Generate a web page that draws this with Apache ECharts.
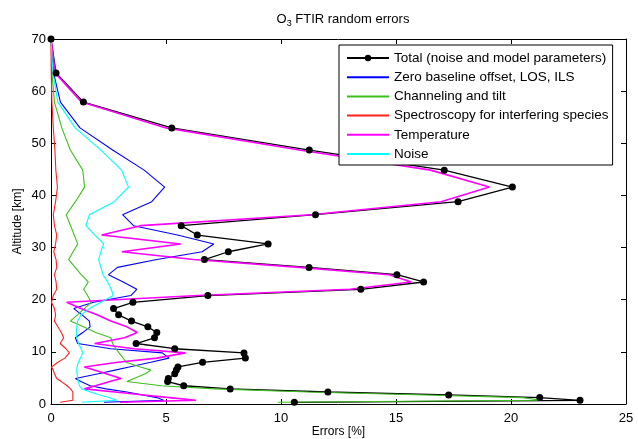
<!DOCTYPE html>
<html><head><meta charset="utf-8">
<script src="https://cdn.jsdelivr.net/npm/echarts@6/dist/echarts.min.js"></script>
<style>html,body{margin:0;padding:0;background:#fff;overflow:hidden}#c{width:638px;height:439px}</style>
</head><body><div id="c"></div>
<script>
const altitudes = [70, 63.5, 57.9, 52.95, 48.7, 44.85, 41.6, 38.8, 36.3, 34.2, 32.4, 30.7, 29.2, 27.7, 26.2, 24.8, 23.4, 22.0, 20.8, 19.5, 18.3, 17.1, 15.9, 14.8, 13.7, 12.7, 11.6, 10.6, 9.8, 8.8, 8.0, 7.1, 6.5, 5.8, 4.9, 4.3, 3.5, 2.9, 2.3, 1.74, 1.23, 0.71, 0.33];
const totalErr = [0, 0.22, 1.41, 5.25, 11.23, 17.1, 20.06, 17.7, 11.5, 5.66, 6.36, 9.44, 7.71, 6.67, 11.22, 15.04, 16.2, 13.47, 6.82, 3.56, 2.72, 2.94, 3.50, 4.21, 4.60, 4.50, 3.70, 5.38, 8.39, 8.45, 6.59, 5.52, 5.45, 5.38, 5.10, 5.07, 5.77, 7.79, 12.04, 17.29, 21.25, 23.0, 10.58];
const zeroBaseline = [0, 0.11, 0.41, 1.26, 2.68, 4.05, 4.94, 4.38, 3.11, 3.59, 5.5, 7.08, 6.57, 4.6, 2.89, 2.5, 3.14, 3.73, 3.47, 1.85, 0.99, 1.35, 1.67, 1.7, 1.38, 1.06, 1.16, 2.6, 4.84, 5.13, 4.34, 3.4, 2.78, 2.06, 1.06, 1.3, 1.7, 2.4, 3.3, 4.0, 4.6, 4.9, 2.3];
const channeling = [0, 0.04, 0.15, 0.47, 0.84, 1.38, 1.46, 1.06, 0.66, 0.85, 1.01, 1.16, 0.96, 0.77, 1.05, 1.31, 1.62, 1.42, 1.59, 1.75, 1.45, 1.15, 0.84, 1.41, 1.94, 2.6, 2.68, 2.82, 2.96, 3.14, 3.26, 3.89, 4.34, 4.1, 3.61, 3.3, 4.8, 7.1, 11.2, 16.3, 20.5, 21.3, 9.86];
const spectroscopy = [0, 0.01, 0.04, 0.1, 0.17, 0.21, 0.28, 0.2, 0.1, 0.15, 0.25, 0.2, 0.12, 0.22, 0.25, 0.15, 0.22, 0.25, 0.1, 0.02, 0.15, 0.2, 0.15, 0.3, 0.45, 0.55, 0.4, 0.65, 0.8, 0.6, 0.3, 0.02, 0.1, 0.15, 0.25, 0.45, 0.7, 0.85, 0.95, 0.95, 0.95, 0.95, 0.4];
const temperature = [0, 0.18, 1.33, 5.0, 10.8, 16.5, 19.06, 16.96, 11.3, 3.9, 2.2, 5.64, 3.08, 6.2, 10.8, 14.7, 15.66, 13.0, 6.4, 0.68, 1.3, 2.0, 2.6, 3.3, 3.75, 3.2, 1.9, 3.6, 5.85, 4.6, 2.9, 1.45, 1.88, 2.4, 3.04, 2.56, 1.93, 1.45, 2.78, 4.02, 5.15, 6.3, 3.0];
const noise = [0, 0.08, 0.3, 1.05, 2.17, 3.07, 3.37, 2.75, 1.67, 1.52, 1.91, 2.29, 2.17, 2.07, 2.17, 2.26, 2.46, 2.62, 2.71, 2.17, 1.67, 1.31, 1.16, 1.12, 1.1, 1.12, 1.2, 1.31, 1.38, 1.28, 1.19, 1.13, 1.12, 1.13, 1.16, 1.2, 1.23, 1.35, 1.71, 2.12, 2.52, 2.85, 1.35];
const seriesNames = ['Total (noise and model parameters)', 'Zero baseline offset, LOS, ILS', 'Channeling and tilt', 'Spectroscopy for interfering species', 'Temperature', 'Noise'];
const seriesColors = ['#000000', '#0000ff', '#3cc01e', '#ff2020', '#ff00ff', '#00ffff'];
const seriesValues = [totalErr, zeroBaseline, channeling, spectroscopy, temperature, noise];

const FONT = '"Liberation Sans", Arial, Helvetica, sans-serif';
const chart = echarts.init(document.getElementById('c'), null, {renderer: 'canvas', width: 638, height: 439});
const pairs = vals => vals.map((v, i) => [v, altitudes[i]]);

const series = seriesValues.map((vals, k) => {
  const s = {
    name: seriesNames[k], type: 'line', data: pairs(vals),
    xAxisIndex: 0, yAxisIndex: 0,
    lineStyle: {color: seriesColors[k], width: k === 4 ? 1.6 : (k === 0 ? 1.3 : 1.1)},
    itemStyle: {color: seriesColors[k]},
    animation: false, silent: true
  };
  if (k === 0) { s.symbol = 'circle'; s.symbolSize = 7; s.showSymbol = true; }
  else { s.symbol = 'none'; s.showSymbol = false; }
  return s;
});

const axisCommon = {
  axisLine: {show: true, onZero: false, lineStyle: {color: '#000', width: 1}},
  axisTick: {show: true, inside: true, length: 5, lineStyle: {color: '#000'}},
  splitLine: {show: false},
  nameMoveOverlap: false
};

chart.setOption({
  backgroundColor: '#fff',
  animation: false,
  title: {
    text: '{a|O}{s|3}{a| FTIR random errors}',
    left: 338, top: 8, textAlign: 'center',
    textStyle: {
      fontWeight: 'normal',
      rich: {
        a: {fontSize: 13, fontFamily: FONT, fontWeight: 'normal', color: '#000', lineHeight: 15, verticalAlign: 'top'},
        s: {fontSize: 9, fontFamily: FONT, fontWeight: 'normal', color: '#000', lineHeight: 10, verticalAlign: 'bottom', padding: [7, 0, 0, 0]}
      }
    }
  },
  grid: {left: 51, right: 12, top: 39, bottom: 35, containLabel: false, outerBoundsMode: 'none'},
  legend: {
    orient: 'vertical', left: 339, top: 45,
    padding: [6, 4, 4, 7], itemWidth: 42, itemHeight: 8, itemGap: 5.2,
    backgroundColor: '#fff', borderColor: '#000', borderWidth: 1, borderRadius: 0,
    textStyle: {fontSize: 13.5, color: '#000', fontFamily: FONT},
    data: seriesNames.map((n, k) => k === 0 ? {name: n} : {name: n, itemStyle: {opacity: 0}})
  },
  xAxis: [
    Object.assign({type: 'value', position: 'bottom', min: 0, max: 25, interval: 5,
      name: 'Errors [%]', nameLocation: 'middle', nameGap: 22,
      nameTextStyle: {fontSize: 12, color: '#000', fontFamily: FONT},
      axisLabel: {fontSize: 13, color: '#000', fontFamily: FONT, margin: 8}}, axisCommon),
    Object.assign({type: 'value', position: 'top', min: 0, max: 25, interval: 5,
      axisLabel: {show: false}}, axisCommon)
  ],
  yAxis: [
    Object.assign({type: 'value', position: 'left', min: 0, max: 70, interval: 10,
      name: 'Altitude [km]', nameLocation: 'middle', nameGap: 27,
      nameTextStyle: {fontSize: 12, color: '#000', fontFamily: FONT},
      axisLabel: {fontSize: 13, color: '#000', fontFamily: FONT, margin: 5}}, axisCommon),
    Object.assign({type: 'value', position: 'right', min: 0, max: 70, interval: 10,
      axisLabel: {show: false}}, axisCommon)
  ],
  series: series
});
</script></body></html>
